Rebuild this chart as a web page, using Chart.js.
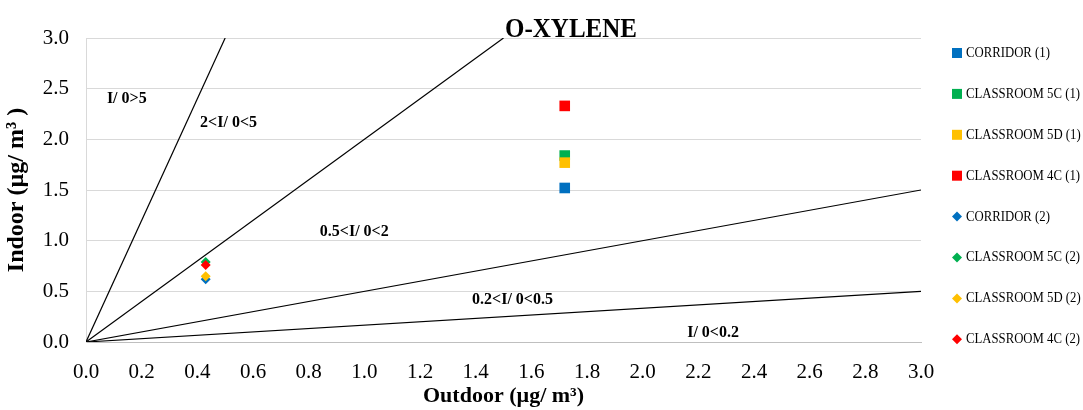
<!DOCTYPE html>
<html>
<head>
<meta charset="utf-8">
<script src="https://cdn.jsdelivr.net/npm/chart.js@4.4.1/dist/chart.umd.min.js"></script>
<style>
  html, body { margin: 0; padding: 0; background: #fff; }
  #wrap { width: 1083px; height: 410px; }
</style>
</head>
<body>
<div id="wrap"><canvas id="oxylene"></canvas></div>
<script>
// series names (legend order)
var seriesNames = [
  "CORRIDOR (1)", "CLASSROOM 5C (1)", "CLASSROOM 5D (1)", "CLASSROOM 4C (1)",
  "CORRIDOR (2)", "CLASSROOM 5C (2)", "CLASSROOM 5D (2)", "CLASSROOM 4C (2)"
];
var seriesColors = ["#0070c0", "#00b050", "#ffc000", "#ff0000", "#0070c0", "#00b050", "#ffc000", "#ff0000"];
// outdoor (x) and indoor (y) concentrations, ug/m3
var outdoorValues = [1.72, 1.72, 1.72, 1.72, 0.43, 0.43, 0.43, 0.43];
var indoorValues = [1.52, 1.84, 1.77, 2.33, 0.62, 0.79, 0.65, 0.76];
// I/O reference lines: end points from origin
var refLineEnds = [[0.5, 3.0], [1.5, 3.0], [3.0, 1.5], [3.0, 0.5]];
// region labels [text, x, y]
var regionLabels = [
  ["I/ 0>5", 0.075, 2.40],
  ["2<I/ 0<5", 0.41, 2.16],
  ["0.5<I/ 0<2", 0.84, 1.09],
  ["0.2<I/ 0<0.5", 1.387, 0.415],
  ["I/ 0<0.2", 2.16, 0.09]
];
var xTicks = { min: 0, max: 3.0, step: 0.2 };
var yTicks = { min: 0, max: 3.0, step: 0.5 };

var serif = "'Liberation Serif', 'Times New Roman', serif";

var datasets = [];
refLineEnds.forEach(function (p) {
  datasets.push({
    type: "line",
    data: [{ x: 0, y: 0 }, { x: p[0], y: p[1] }],
    borderColor: "#000",
    borderWidth: 1.2,
    pointRadius: 0,
    fill: false,
    order: 100,
  });
});
seriesNames.forEach(function (name, i) {
  var isSquare = i < 4;
  datasets.push({
    label: name,
    data: [{ x: outdoorValues[i], y: indoorValues[i] }],
    backgroundColor: seriesColors[i],
    borderColor: seriesColors[i],
    borderWidth: 0,
    pointStyle: isSquare ? "rect" : "rectRot",
    pointRadius: isSquare ? 7.5 : 5,
    order: 20 - i,
  });
});

// draw text squeezed to a given width
function squeezeText(ctx, text, x, y, width) {
  var w = ctx.measureText(text).width;
  var k = Math.min(1, width / w);
  ctx.save();
  ctx.translate(x, y);
  ctx.scale(k, 1);
  ctx.fillText(text, 0, 0);
  ctx.restore();
}

var overlay = {
  id: "overlay",
  afterDatasetsDraw: function (chart) {
    var ctx = chart.ctx, xs = chart.scales.x, ys = chart.scales.y;
    ctx.save();
    ctx.fillStyle = "#000";
    ctx.textBaseline = "middle";
    ctx.textAlign = "left";
    ctx.font = "bold 16px " + serif;
    regionLabels.forEach(function (l) {
      ctx.fillText(l[0], xs.getPixelForValue(l[1]), ys.getPixelForValue(l[2]));
    });
    // title
    ctx.font = "bold 27px " + serif;
    ctx.textBaseline = "alphabetic";
    squeezeText(ctx, "O-XYLENE", 505, 37, 132);
    // legend
    ctx.font = "15px " + serif;
    ctx.textBaseline = "middle";
    var k = 114 / ctx.measureText("CLASSROOM 5C (1)").width;
    seriesNames.forEach(function (name, i) {
      var cy = 53 + i * 40.9, cx = 957;
      ctx.fillStyle = seriesColors[i];
      ctx.beginPath();
      if (i < 4) {
        ctx.rect(cx - 5, cy - 5, 10, 10);
      } else {
        ctx.moveTo(cx, cy - 5); ctx.lineTo(cx + 5, cy); ctx.lineTo(cx, cy + 5); ctx.lineTo(cx - 5, cy);
        ctx.closePath();
      }
      ctx.fill();
      ctx.fillStyle = "#000";
      squeezeText(ctx, name, 966, cy, ctx.measureText(name).width * k);
    });
    ctx.restore();
  },
};

new Chart(document.getElementById("oxylene"), {
  type: "scatter",
  data: { datasets: datasets },
  plugins: [overlay],
  options: {
    responsive: true,
    maintainAspectRatio: false,
    animation: false,
    layout: { padding: { left: 0, top: 38, right: 162, bottom: 0 } },
    plugins: { legend: { display: false }, tooltip: { enabled: false }, title: { display: false } },
    scales: {
      x: {
        type: "linear",
        min: xTicks.min,
        max: xTicks.max,
        afterFit: function (s) { s.height = 68; },
        ticks: {
          stepSize: xTicks.step,
          padding: 18,
          color: "#000",
          font: { family: serif, size: 21 },
          callback: function (v) { return v.toFixed(1); },
        },
        grid: { display: false, drawTicks: false },
        border: { color: "#bfbfbf", width: 1 },
        title: {
          display: true,
          text: "Outdoor (µg/ m³)",
          color: "#000",
          font: { family: serif, size: 22, weight: "bold" },
          padding: { top: 0, bottom: 0 },
        },
      },
      y: {
        type: "linear",
        min: yTicks.min,
        max: yTicks.max,
        afterFit: function (s) { s.width = 86; },
        ticks: {
          stepSize: yTicks.step,
          padding: 17,
          color: "#000",
          font: { family: serif, size: 21 },
          callback: function (v) { return v.toFixed(1); },
        },
        grid: { color: "#d9d9d9", drawTicks: false },
        border: { color: "#d9d9d9", width: 1 },
        title: {
          display: true,
          text: "Indoor (µg/ m³ )",
          color: "#000",
          font: { family: serif, size: 24, weight: "bold" },
          padding: { top: 2, bottom: 0 },
        },
      },
    },
  },
});
</script>
</body>
</html>
